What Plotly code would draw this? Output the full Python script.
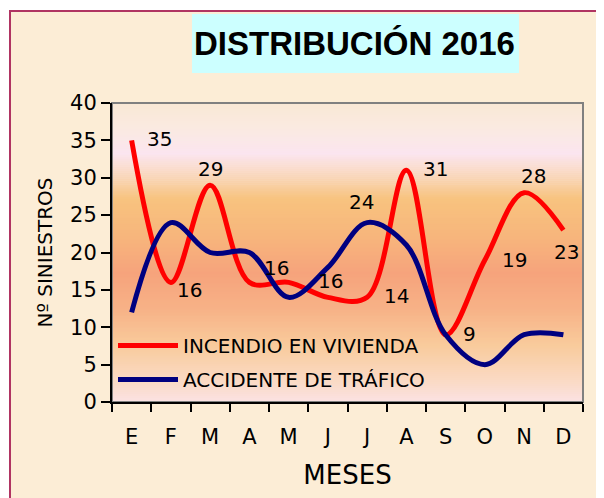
import plotly.graph_objects as go

# ---------------- data ----------------
months = ["E", "F", "M", "A", "M", "J", "J", "A", "S", "O", "N", "D"]
incendio = [35, 16, 29, 16, 16, 14, 14, 31, 9, 19, 28, 23]
accidente = [12, 24, 20, 20, 14, 18, 24, 21, 9, 5, 9, 9]

series_names = {"INC": "INCENDIO EN VIVIENDA", "ACC": "ACCIDENTE DE TRÁFICO"}

label_text = ["35", "16", "29", "16", "16", "24", "14", "31", "9", "19", "28", "23"]
label_series = ["INC", "INC", "INC", "INC", "INC", "ACC", "INC", "INC", "INC", "INC", "INC", "INC"]
label_month = [0, 1, 2, 3, 4, 6, 6, 7, 8, 9, 10, 11]
label_shift = [(28, 1), (19, -8), (0, 16), (27, 14), (42, 1), (-6, 21), (29, 1),
               (29, 1), (24, 1), (30, 0), (9, 17), (3, -22)]

title_text = "DISTRIBUCIÓN 2016"
x_title = "MESES"
y_title = "Nº SINIESTROS"

# the page body adds an 8px margin around the figure
OFF = 8
W, H = 604 - OFF, 498 - OFF
ML, MR, MT, MB = 112 - OFF, 21, 103 - OFF, 96
PW, PH = W - ML - MR, H - MT - MB


def px_to_paper_x(px):
    return (px - OFF - ML) / PW


def px_to_paper_y(py):
    return (H - MB - (py - OFF)) / PH


FONT = "DejaVu Sans"

fig = go.Figure()
x_idx = list(range(len(months)))
fig.add_trace(go.Scatter(
    x=x_idx, y=incendio, mode="lines", name=series_names["INC"],
    line=dict(color="#ff0000", width=5, shape="spline", smoothing=1.0),
    legendgroup="a", hoverinfo="skip"))
fig.add_trace(go.Scatter(
    x=x_idx, y=accidente, mode="lines", name=series_names["ACC"],
    line=dict(color="#000080", width=5, shape="spline", smoothing=1.0),
    legendgroup="b", hoverinfo="skip"))

values = {"INC": incendio, "ACC": accidente}
annotations = []
for t, s, m, (dx, dy) in zip(label_text, label_series, label_month, label_shift):
    annotations.append(dict(x=m, y=values[s][m], xref="x", yref="y", text=t,
                            showarrow=False, xshift=dx, yshift=dy,
                            font=dict(family=FONT, size=20, color="black")))

# title
annotations.append(dict(x=px_to_paper_x(354), y=px_to_paper_y(43.5), xref="paper", yref="paper",
                        text="<b>" + title_text + "</b>", showarrow=False,
                        xanchor="center", yanchor="middle",
                        font=dict(family="Liberation Sans, Arial", size=33, color="black")))

shapes = []
# page background with maroon border
shapes.append(dict(type="rect", xref="paper", yref="paper",
                   x0=px_to_paper_x(10), x1=px_to_paper_x(640),
                   y0=px_to_paper_y(540), y1=px_to_paper_y(11),
                   fillcolor="#fcedd6", line=dict(color="#b03462", width=2), layer="below"))
# title box
shapes.append(dict(type="rect", xref="paper", yref="paper",
                   x0=px_to_paper_x(192), x1=px_to_paper_x(519),
                   y0=px_to_paper_y(73), y1=px_to_paper_y(14),
                   fillcolor="#ccffff", line=dict(width=0), layer="below"))

# gradient plot background
stops = [(0.00, "#fbe2e4"), (0.06, "#fadbc8"), (0.19, "#f9cb9c"), (0.31, "#f7b287"),
         (0.43, "#f6a37c"), (0.55, "#f7b57c"), (0.68, "#f8c37f"), (0.75, "#f9d6b8"),
         (0.83, "#fbe5f0"), (0.92, "#faeae0"), (1.00, "#f9e8d5")]


def hex2rgb(h):
    h = h.lstrip("#")
    return tuple(int(h[i:i + 2], 16) for i in (0, 2, 4))


def interp(f):
    for (f0, c0), (f1, c1) in zip(stops[:-1], stops[1:]):
        if f0 <= f <= f1:
            t = (f - f0) / (f1 - f0) if f1 > f0 else 0
            a, b = hex2rgb(c0), hex2rgb(c1)
            return "rgb(%d,%d,%d)" % tuple(round(a[i] + (b[i] - a[i]) * t) for i in range(3))
    return stops[-1][1]


N = 150
for i in range(N):
    f = (i + 0.5) / N
    shapes.append(dict(type="rect", xref="paper", yref="paper", x0=0, x1=1,
                       y0=i / N, y1=(i + 1) / N + 0.002, fillcolor=interp(f),
                       line=dict(width=0), layer="below"))
# plot-area border (grey)
shapes.append(dict(type="rect", xref="paper", yref="paper", x0=0, x1=1, y0=0, y1=1,
                   line=dict(color="#808080", width=2), layer="below"))

fig.update_layout(
    width=W, height=H,
    margin=dict(l=ML, r=MR, t=MT, b=MB, pad=0, autoexpand=False),
    paper_bgcolor="white", plot_bgcolor="rgba(0,0,0,0)",
    shapes=shapes, annotations=annotations,
    showlegend=True,
    legend=dict(x=px_to_paper_x(113), y=px_to_paper_y(326), xanchor="left", yanchor="top",
                bgcolor="rgba(0,0,0,0)", font=dict(family=FONT, size=20, color="black"),
                itemwidth=60, tracegroupgap=5, traceorder="grouped"),
    font=dict(family=FONT, color="black"),
)

fig.update_xaxes(
    automargin=False,
    range=[-0.5, len(months) - 0.5], tickmode="array", tickvals=x_idx, ticktext=months,
    ticks="outside", ticklen=8, tickcolor="rgba(0,0,0,0)", ticklabelstandoff=7,
    tickfont=dict(family=FONT, size=21, color="black"),
    minor=dict(tickmode="array", tickvals=[i - 0.5 for i in range(len(months) + 1)],
               ticks="outside", ticklen=8, tickwidth=2, tickcolor="black", showgrid=False),
    showline=True, linecolor="black", linewidth=2, showgrid=False, zeroline=False,
    title=dict(text=x_title, font=dict(family=FONT, size=26, color="black"), standoff=18),
)
fig.update_yaxes(
    automargin=False,
    range=[0, 40], tick0=0, dtick=5, ticks="outside", ticklen=9, tickwidth=2, tickcolor="black",
    tickfont=dict(family=FONT, size=21, color="black"),
    showline=True, linecolor="black", linewidth=2, showgrid=False, zeroline=False,
    title=dict(text=y_title, font=dict(family=FONT, size=20, color="black"), standoff=12),
)

fig.write_html("out.html")
